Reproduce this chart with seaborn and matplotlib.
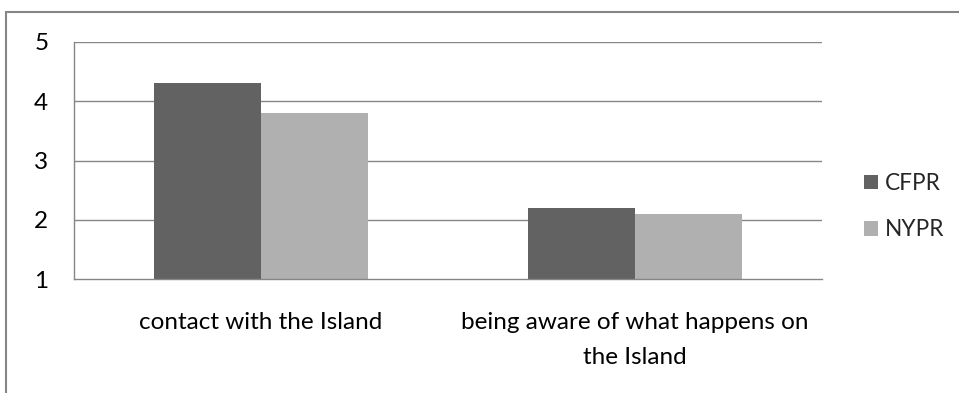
import matplotlib
matplotlib.use("Agg")
import matplotlib.pyplot as plt
from matplotlib.patches import Rectangle
import seaborn as sns
import pandas as pd

# Survey means per topic
categories = ["contact with the Island", "being aware of what happens on\nthe Island"]
series = ["CFPR", "NYPR"]
cfpr_values = [4.3, 2.2]
nypr_values = [3.8, 2.1]
y_ticks = [1, 2, 3, 4, 5]

df = pd.DataFrame({
    "topic": categories * 2,
    "group": [series[0]] * 2 + [series[1]] * 2,
    "score": cfpr_values + nypr_values,
})

sns.set_theme(style="white")
plt.rcParams["font.family"] = ["Lato", "DejaVu Sans"]

axis_gray = "#868686"
fs = 17.5
fig = plt.figure(figsize=(9.59, 3.93), dpi=100)
ax = fig.add_axes([74 / 959, 1 - 279 / 393, (822 - 74) / 959, (279 - 42) / 393])

sns.barplot(data=df, x="topic", y="score", hue="group", order=categories,
            hue_order=series, palette=["#626262", "#b0b0b0"], width=0.572,
            gap=0, linewidth=0, saturation=1, ax=ax, zorder=3)

ax.set_ylim(1, 5)
ax.set_xlim(-0.5, 1.5)
ax.set_yticks(y_ticks)
ax.set_yticklabels([str(v) for v in y_ticks], fontsize=fs, color="#000000")
ax.set_xticks([0, 1])
ax.set_xticklabels(categories, fontsize=fs, color="#000000", linespacing=1.85)
ax.set_xticks([-0.5, 0.5, 1.5], minor=True)
ax.tick_params(axis="x", which="major", length=0, pad=23.5)
ax.tick_params(axis="x", which="minor", length=6, width=1.0, color=axis_gray, direction="out")
ax.tick_params(axis="y", which="major", length=6.5, width=1.0, color=axis_gray, direction="out", pad=12)
ax.set_xlabel("")
ax.set_ylabel("")

for v in y_ticks[1:]:
    ax.axhline(v, color=axis_gray, linewidth=1.0, zorder=1)

for side in ["top", "right"]:
    ax.spines[side].set_visible(False)
for side in ["left", "bottom"]:
    ax.spines[side].set_color(axis_gray)
    ax.spines[side].set_linewidth(1.0)
    ax.spines[side].set_zorder(4)

leg = ax.legend(loc="center left", bbox_to_anchor=(1.029, 0.305), frameon=False,
                fontsize=16.3, handlelength=0.6, handleheight=0.6,
                handletextpad=0.3, labelspacing=1.12)
leg.set_title(None)

# chart frame (left and top edges fall inside the image)
fig.patches.append(Rectangle((6 / 959, -0.1), 1.2, 1 - 12 / 393 + 0.1,
                             transform=fig.transFigure, fill=False,
                             edgecolor=axis_gray, linewidth=1.5))

fig.savefig("out.png", dpi=100, facecolor="white")
